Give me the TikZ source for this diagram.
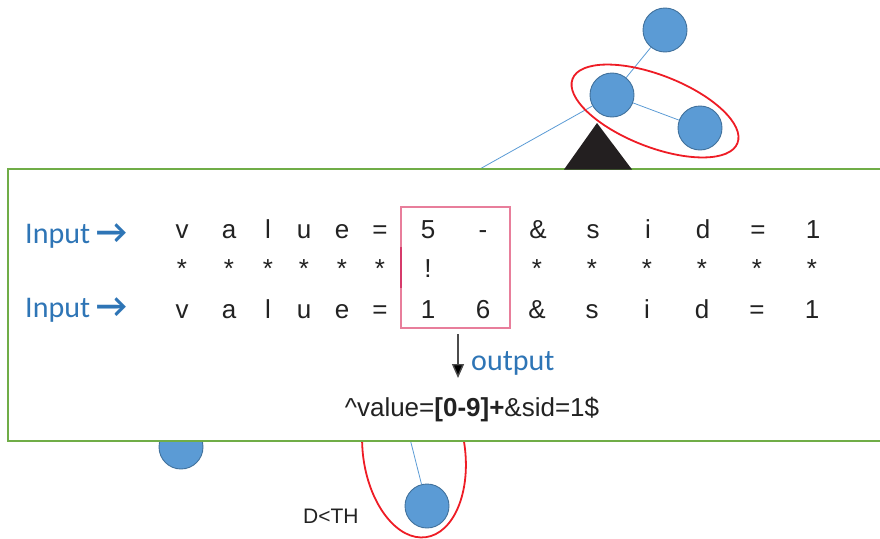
\documentclass[tikz,border=0pt]{standalone}
\usepackage{fontspec}
\setmainfont{Liberation Sans}
\newfontfamily\calib{Carlito}
\usetikzlibrary{arrows.meta}
\definecolor{offblue}{HTML}{2E75B6}
\definecolor{nodefill}{HTML}{5B9BD5}
\definecolor{nodeedge}{HTML}{41719C}
\definecolor{redring}{HTML}{EE1C25}
\definecolor{panelgreen}{HTML}{70AD47}
\definecolor{pinkbox}{HTML}{E87E9B}
\definecolor{pinkmark}{HTML}{D63B6B}
\definecolor{tri}{HTML}{231F20}
\definecolor{ink}{HTML}{222222}
\tikzset{
  leaf/.style={circle, draw=nodeedge, fill=nodefill, line width=0.9pt, minimum size=44pt, inner sep=0pt},
  tline/.style={draw=nodefill, line width=0.8pt},
  ring/.style={draw=redring, line width=1.8pt},
  ch/.style={anchor=base, inner sep=0pt, text=ink, font=\fontsize{26}{30}\selectfont},
  inlabel/.style={anchor=base west, inner sep=0pt, text=offblue, font=\calib\fontsize{30}{34}\selectfont},
}
\begin{document}
\begin{tikzpicture}[x=1pt,y=-1pt]
\useasboundingbox (0,0) rectangle (880,538);
% upper tree
\node[leaf] (t1) at (665,30) {};
\node[leaf] (t2) at (612,95) {};
\node[leaf] (t3) at (700,128) {};
\coordinate (h1) at (412,207);
\draw[tline] (t2) -- (t1);
\draw[tline] (t2) -- (t3);
\draw[tline] (t2) -- (h1);
\draw[ring, rotate around={-21.3:(655,111)}] (655,111) ellipse (88.5 and 36);
% lower tree
\node[leaf] (b1) at (181,447) {};
\node[leaf] (b2) at (427,506) {};
\coordinate (h2) at (404,415);
\draw[tline] (h2) -- (b2);
\draw[ring, rotate around={8:(414,452)}] (414,452) ellipse (51 and 86);
% panel
\node[draw=panelgreen, fill=white, line width=1.5pt, minimum width=880pt, minimum height=272pt, inner sep=0pt] (panel) at (448,305) {};
% triangle
\fill[tri] (597,123) -- (632,169.5) -- (564,169.5) -- cycle;
% labels
\node[inlabel] (in1) at (25,243) {Input\hspace{6pt}{\bfseries\fontsize{34}{34}\selectfont →}};
\node[inlabel] (in2) at (25,317) {Input\hspace{6pt}{\bfseries\fontsize{34}{34}\selectfont →}};
% pink box
\node[draw=pinkbox, line width=1.5pt, minimum width=109pt, minimum height=121pt, inner sep=0pt] (box) at (455.5,267.5) {};
\draw[pinkmark, line width=2.5pt] (401,247) -- (401,288);
% grid
\foreach \x/\t [count=\i] in {182/v,229/a,268/l,304/u,342/e,380/=,428/5,483/-,538/\&,593/s,648/i,703/d,758/=,813/1}
  \node[ch] (ra\i) at (\x,238) {\t};
\foreach \x/\t [count=\i] in {182/*,229/*,268/*,304/*,342/*,380/*,428/!,537/*,592/*,647/*,702/*,757/*,812/*}
  \node[ch] (rb\i) at (\x,277) {\t};
\foreach \x/\t [count=\i] in {182/v,229/a,268/l,304/u,342/e,380/=,428/1,483/6,537/\&,592/s,647/i,702/d,757/=,812/1}
  \node[ch] (rc\i) at (\x,318) {\t};
% output arrow
\coordinate (oa) at (458,334);
\coordinate (ob) at (458,378);
\draw[draw=black!70, line width=1.4pt, -{Triangle[length=14pt,width=12pt,fill=black]}] (oa) -- (ob);
\node[inlabel] (out) at (471,370) {output};
\node[ch, font=\fontsize{26}{30}\selectfont] (rx) at (472,416) {\textasciicircum value=\textbf{[0-9]+}\&sid=1\$};
\node[anchor=base west, inner sep=0pt, text=ink, font=\fontsize{21}{25}\selectfont] (dth) at (303,523) {D<TH};
\end{tikzpicture}
\end{document}
